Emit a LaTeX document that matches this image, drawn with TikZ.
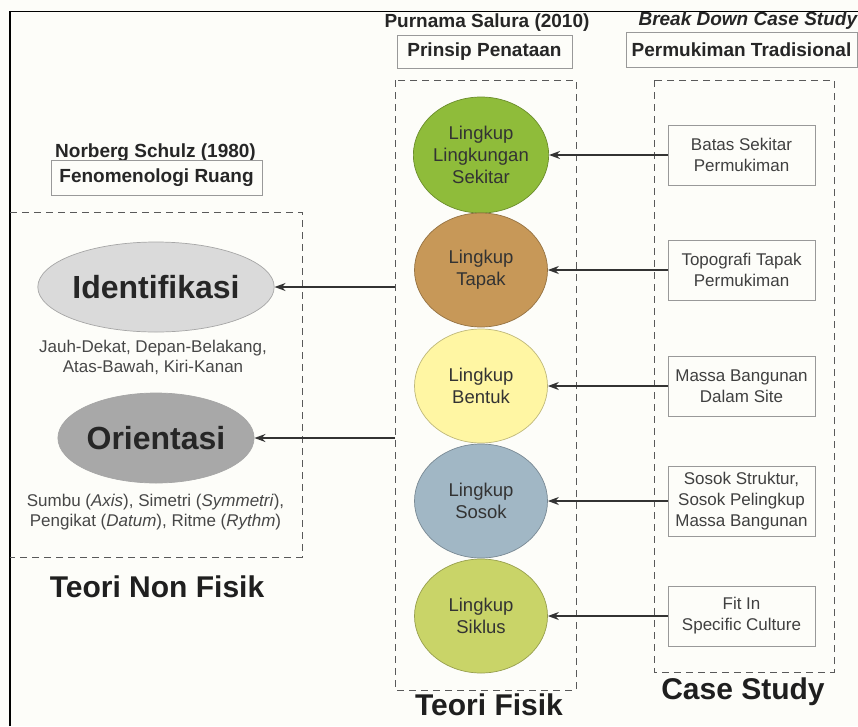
\documentclass[tikz,border=0pt]{standalone}
\usepackage{fontspec}
\setmainfont{Liberation Sans}
\usetikzlibrary{shapes.geometric,arrows.meta,positioning}

\definecolor{kertas}{RGB}{253,253,249}
\definecolor{hijau}{RGB}{143,188,58}
\definecolor{coklat}{RGB}{199,152,88}
\definecolor{kuning}{RGB}{255,246,163}
\definecolor{biru}{RGB}{161,183,197}
\definecolor{hijaumuda}{RGB}{201,212,104}
\definecolor{abumuda}{RGB}{218,218,218}
\definecolor{abutua}{RGB}{168,168,168}

\tikzset{
	hdr/.style={font=\fontsize{19}{22}\selectfont\bfseries, text=black!85},
	judulbox/.style={draw=black!40, line width=0.8pt, font=\fontsize{19}{22}\selectfont\bfseries, text=black!85, inner xsep=2pt, inner ysep=0pt},
	lingkup/.style={ellipse, draw=#1!75!black, fill=#1, line width=0.7pt, minimum width=133pt, minimum height=114pt, inner sep=0pt, align=center, font=\fontsize{18.5}{22}\selectfont, text=black!80},
	casebox/.style={draw=black!40, line width=0.8pt, minimum width=147pt, minimum height=60pt, inner xsep=2pt, align=center, font=\fontsize{17}{21}\selectfont, text=black!75},
	teori/.style={ellipse, draw=black!35, fill=#1, line width=0.7pt, minimum width=196pt, minimum height=90pt, inner sep=0pt, font=\fontsize{32}{36}\selectfont\bfseries, text=black!85},
	ket/.style={align=center, font=\fontsize{17}{20.5}\selectfont, text=black!72},
	judul/.style={font=\fontsize{30}{34}\selectfont\bfseries, text=black!88},
	grup/.style={draw=black!65, line width=0.9pt, dash pattern=on 7pt off 5pt},
	panah/.style={draw=black!80, line width=1.5pt, -{Stealth[length=11pt,width=8pt]}},
}

\begin{document}
\begin{tikzpicture}[x=1pt,y=-1pt]
		\fill[kertas] (0,0) rectangle (858,726);
		\useasboundingbox (0,0) rectangle (858,726);
		\draw[line width=1.5pt] (10,726) -- (10,11.5) -- (858,11.5);

		\draw[grup] (10,212) -- (302,212) -- (302,557) -- (10,557);
		\draw[grup] (395,80) rectangle (576,690);
		\draw[grup] (654,80) rectangle (834,672);

		\draw (487,27) node [hdr, anchor=base] (purnama) {Purnama Salura (2010)};
		\draw (484.5,51.5) node [judulbox, minimum width=175pt, minimum height=33pt] (prinsip) {Prinsip Penataan};
		\draw (635,25) node [hdr, anchor=base west, font=\fontsize{19}{22}\selectfont\bfseries\itshape] (breakdown) {Break Down Case Study};
		\draw (741.5,49.5) node [judulbox, minimum width=231pt, minimum height=35pt] (permukiman) {Permukiman Tradisional};
		\draw (155.5,157) node [hdr, anchor=base] (norberg) {Norberg Schulz (1980)};
		\draw (156.5,177.5) node [judulbox, minimum width=211pt, minimum height=35pt] (fenomenologi) {Fenomenologi Ruang};

		\draw (156,287) node [teori=abumuda] (ident) {Identifikasi};
		\draw (156,438) node [teori=abutua] (orient) {Orientasi};
		\draw (153,357.5) node [ket] (ketident) {Jauh-Dekat, Depan-Belakang,\\Atas-Bawah, Kiri-Kanan};
		\draw (155.5,512) node [ket] (ketorient) {Sumbu (\textit{Axis}), Simetri (\textit{Symmetri}),\\Pengikat (\textit{Datum}), Ritme (\textit{Rythm})};

		\draw (481,155) node [lingkup=hijau, minimum height=116pt] (sekitar) {Lingkup\\Lingkungan\\Sekitar};
		\draw (481,270) node [lingkup=coklat] (tapak) {Lingkup\\Tapak};
		\draw (481,386) node [lingkup=kuning] (bentuk) {Lingkup\\Bentuk};
		\draw (481,501) node [lingkup=biru] (sosok) {Lingkup\\Sosok};
		\draw (481,616) node [lingkup=hijaumuda] (siklus) {Lingkup\\Siklus};

		\draw (741.5,155) node [casebox] (batas) {Batas Sekitar\\Permukiman};
		\draw (741.5,270) node [casebox] (topografi) {Topografi Tapak\\Permukiman};
		\draw (741.5,386) node [casebox] (massa) {Massa Bangunan\\Dalam Site};
		\draw (741.5,501) node [casebox, minimum height=70pt] (struktur) {Sosok Struktur,\\Sosok Pelingkup\\Massa Bangunan};
		\draw (741.5,616) node [casebox] (fitin) {Fit In\\Specific Culture};

		\coordinate (dariident) at (395,287);
		\coordinate (dariorient) at (395,438);

		\draw (157,587) node [judul] (nonfisik) {Teori Non Fisik};
		\draw (489,705) node [judul] (fisik) {Teori Fisik};
		\draw (743,692) node [judul] (casestudy) {Case Study};

		\path
			(dariident) edge [panah] (ident)
			(dariorient) edge [panah] (orient)
			(batas) edge [panah] (sekitar)
			(topografi) edge [panah] (tapak)
			(massa) edge [panah] (bentuk)
			(struktur) edge [panah] (sosok)
			(fitin) edge [panah] (siklus);
	\end{tikzpicture}
\end{document}
